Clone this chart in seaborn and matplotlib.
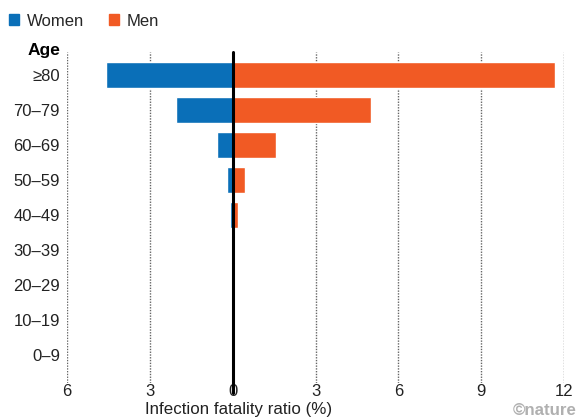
import numpy as np
import pandas as pd
import seaborn as sns
import matplotlib.pyplot as plt
from matplotlib.patches import Patch
from matplotlib.ticker import FuncFormatter

# Datos: razón de letalidad por infección (%) por grupo de edad
ages = ["≥80", "70–79", "60–69", "50–59", "40–49", "30–39", "20–29", "10–19", "0–9"]
women = [4.6, 2.04, 0.57, 0.19, 0.11, 0.05, 0.015, 0.004, 0.002]
men = [11.68, 5.02, 1.58, 0.46, 0.18, 0.08, 0.025, 0.006, 0.003]

blue = "#0a6fb8"
orange = "#f15a24"

sns.set_theme(style="white")
plt.rcParams["font.family"] = ["Liberation Sans", "DejaVu Sans"]

df = pd.DataFrame({"age": ages, "women": -np.array(women), "men": men})

fig = plt.figure(figsize=(5.78, 4.19), dpi=100)
ax = fig.add_axes([67 / 578, 1 - 383 / 419, (564 - 67) / 578, (383 - 52) / 419])

sns.barplot(data=df, x="women", y="age", orient="h", color=blue, width=0.75,
            saturation=1, ax=ax)
sns.barplot(data=df, x="men", y="age", orient="h", color=orange, width=0.75,
            saturation=1, ax=ax)

ax.set_xlim(-6, 12)
ax.set_ylim(8.8, -0.66)
ax.set_xticks([-6, -3, 0, 3, 6, 9, 12])
ax.xaxis.set_major_formatter(FuncFormatter(lambda v, p: f"{abs(v):g}"))
ax.set_xlabel("")
ax.set_ylabel("")
for s in ax.spines.values():
    s.set_visible(False)
ax.tick_params(axis="both", length=0, labelsize=12, colors="#222222")
ax.tick_params(axis="x", pad=1)
ax.tick_params(axis="y", pad=5)

# líneas de rejilla punteadas y línea del cero
for v in [-6, -3, 3, 6, 9, 12]:
    ax.axvline(v, color="#666666", lw=1, ls=(0, (1, 1)), zorder=0)
ax.axvline(0, ymin=-0.03, ymax=1, color="black", lw=2.2, zorder=5, clip_on=False)

fig.text(60 / 578, 1 - 50 / 419, "Age", ha="right", va="center",
         fontsize=12.5, fontweight="bold", color="black")
fig.text(239 / 578, 1 - 409 / 419, "Infection fatality ratio (%)", ha="center",
         va="center", fontsize=12.2, color="#222222")
fig.text(577 / 578, 1 - 410 / 419, "©nature", ha="right", va="center",
         fontsize=12.2, fontweight="bold", color="#b0b0b0")

handles = [Patch(color=blue, label="Women"), Patch(color=orange, label="Men")]
fig.legend(handles=handles, loc="center left", bbox_to_anchor=(9 / 578, 1 - 21 / 419),
           ncol=2, frameon=False, fontsize=12, handlelength=0.6, handleheight=0.6,
           handletextpad=0.45, columnspacing=1.5, borderaxespad=0, borderpad=0)

fig.savefig("out.png", dpi=100)
